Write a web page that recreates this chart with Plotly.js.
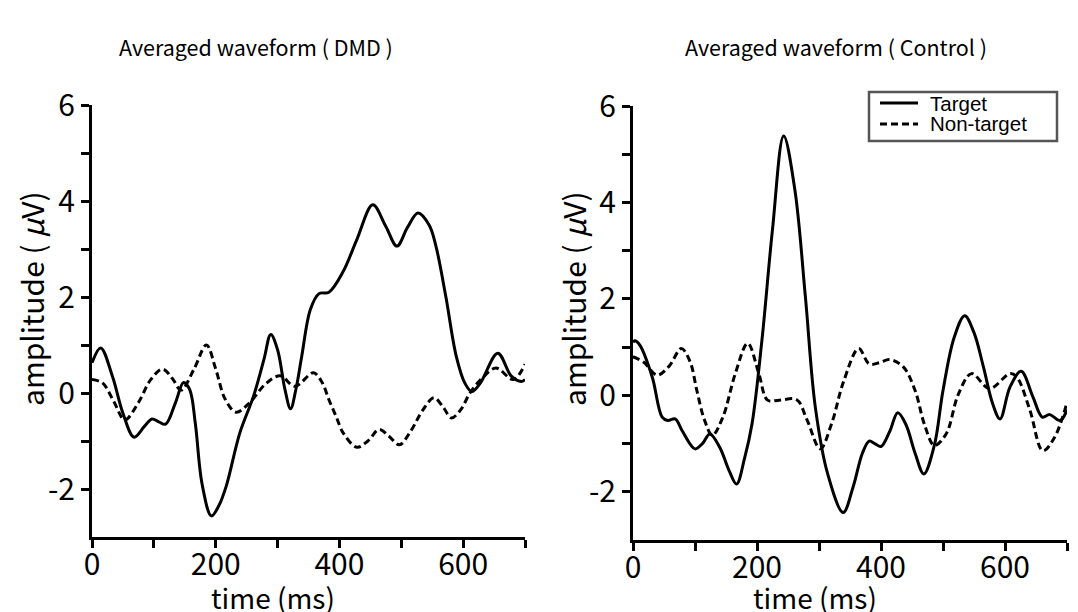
<!DOCTYPE html>
<html>
<head>
<meta charset="utf-8">
<script src="https://cdn.plot.ly/plotly-3.0.1.min.js"></script>
<style>html,body{margin:0;padding:0;background:#fff;}#chart{width:1078px;height:612px;}</style>
</head>
<body>
<div id="chart"></div>
<script>
// ---- data (time in ms, amplitude in µV) ----
var panelTitles = ["Averaged waveform ( DMD )", "Averaged waveform ( Control )"];
var seriesNames = ["Target", "Non-target"];
var xTickVals = [0, 200, 400, 600];
var xTickText = ["0", "200", "400", "600"];
var yTickVals = [-2, 0, 2, 4, 6];
var yTickText = ["-2", "0", "2", "4", "6"];
var xTitle = "time (ms)";
var yTitle = "amplitude ( <i>μ</i>V)";

var dmdTargetT = [0, 14, 33, 50, 68, 85, 97, 108, 119, 135, 148, 158, 167, 178, 193, 205, 217, 239, 261, 278, 289, 300, 312, 321, 330, 339, 353, 367, 383, 406, 428, 454, 475, 493, 510, 527, 545, 556, 572, 589, 603, 614, 628, 656, 678, 694, 700];
var dmdTargetV = [0.63, 0.94, 0.35, -0.42, -0.92, -0.69, -0.54, -0.6, -0.65, -0.2, 0.22, 0.07, -0.63, -1.9, -2.56, -2.35, -1.94, -0.83, -0.07, 0.7, 1.22, 0.9, 0.07, -0.33, 0.1, 0.76, 1.74, 2.07, 2.1, 2.53, 3.19, 3.92, 3.47, 3.06, 3.45, 3.75, 3.5, 3.06, 2.01, 0.76, 0.2, 0.03, 0.21, 0.83, 0.35, 0.24, 0.28];

var dmdNonT = [0, 17, 35, 53, 75, 95, 114, 130, 144, 165, 185, 200, 215, 233, 255, 280, 304, 328, 358, 372, 383, 395, 406, 428, 446, 464, 480, 497, 515, 535, 553, 568, 581, 596, 611, 630, 653, 681, 700];
var dmdNonV = [0.28, 0.21, -0.17, -0.56, -0.2, 0.28, 0.5, 0.3, 0.06, 0.5, 1.0, 0.5, -0.12, -0.4, -0.2, 0.18, 0.36, 0.14, 0.42, 0.22, -0.14, -0.5, -0.83, -1.13, -1.0, -0.76, -0.9, -1.08, -0.8, -0.35, -0.1, -0.3, -0.52, -0.35, 0.0, 0.3, 0.52, 0.28, 0.6];

var ctlTargetT = [0, 3, 11, 31, 47, 56, 68, 80, 100, 112, 124, 140, 155, 167, 180, 192, 208, 225, 243, 261, 278, 294, 314, 339, 355, 370, 381, 390, 400, 414, 427, 440, 455, 469, 486, 500, 518, 535, 550, 565, 580, 592, 608, 626, 645, 660, 672, 689, 700];
var ctlTargetV = [1.1, 1.13, 1.04, 0.38, -0.45, -0.52, -0.49, -0.75, -1.11, -1.0, -0.8, -1.08, -1.56, -1.84, -1.3, -0.59, 1.15, 3.44, 5.38, 4.27, 2.05, -0.24, -1.63, -2.43, -1.9, -1.2, -0.95, -1.0, -1.06, -0.75, -0.36, -0.6, -1.2, -1.63, -1.04, 0.1, 1.2, 1.65, 1.3, 0.6, -0.17, -0.49, 0.17, 0.5, -0.03, -0.45, -0.4, -0.52, -0.3];

var ctlNonT = [0, 17, 39, 58, 78, 92, 103, 115, 128, 145, 165, 185, 203, 217, 236, 264, 281, 302, 320, 340, 364, 381, 398, 414, 436, 455, 470, 486, 505, 525, 546, 575, 608, 619, 640, 661, 680, 700];
var ctlNonV = [0.8, 0.69, 0.42, 0.6, 0.97, 0.7, 0.1, -0.5, -0.83, -0.45, 0.45, 1.08, 0.45, -0.1, -0.1, -0.09, -0.52, -1.11, -0.6, 0.3, 0.97, 0.65, 0.68, 0.74, 0.59, 0.1, -0.6, -1.04, -0.8, 0.03, 0.45, 0.14, 0.45, 0.38, -0.3, -1.15, -0.87, -0.15];

// ---- styling ----
var W = 1078, H = 612;
var FONT = "Noto Sans CJK JP, Noto Sans, sans-serif";
var LFONT = "Liberation Sans, Arial, sans-serif";
var solid = {color: "#000", width: 3, shape: "spline", smoothing: 1};
var dashed = {color: "#000", width: 3, shape: "spline", smoothing: 1, dash: "7px,4px"};

var traces = [
  {x: dmdTargetT, y: dmdTargetV, xaxis: "x", yaxis: "y", mode: "lines", line: solid, name: seriesNames[0]},
  {x: dmdNonT, y: dmdNonV, xaxis: "x", yaxis: "y", mode: "lines", line: dashed, name: seriesNames[1]},
  {x: ctlTargetT, y: ctlTargetV, xaxis: "x2", yaxis: "y2", mode: "lines", line: solid, name: seriesNames[0]},
  {x: ctlNonT, y: ctlNonV, xaxis: "x2", yaxis: "y2", mode: "lines", line: dashed, name: seriesNames[1]}
];

function xAx(domain, anchor) {
  return {
    domain: domain, anchor: anchor, range: [0, 700],
    showline: true, linecolor: "#000", linewidth: 3,
    showgrid: false, zeroline: false,
    ticks: "outside", ticklen: 8, tickwidth: 3, tickcolor: "#000",
    tickvals: xTickVals, ticktext: xTickText, ticklabelstandoff: -9,
    minor: {tickvals: [100, 300, 500, 700], ticks: "outside", ticklen: 8, tickwidth: 3, tickcolor: "#000", showgrid: false},
    tickfont: {family: FONT, size: 30, color: "#000"},
    automargin: false, fixedrange: true
  };
}
function yAx(domain, anchor) {
  return {
    domain: domain, anchor: anchor, range: [-3, 6],
    showline: true, linecolor: "#000", linewidth: 3,
    showgrid: false, zeroline: false,
    ticks: "outside", ticklen: 8, tickwidth: 3, tickcolor: "#000",
    tickvals: yTickVals, ticktext: yTickText,
    minor: {tickvals: [-1, 1, 3, 5], ticks: "outside", ticklen: 8, tickwidth: 3, tickcolor: "#000", showgrid: false},
    tickfont: {family: FONT, size: 30, color: "#000"},
    automargin: false, fixedrange: true
  };
}

function px(x) { return x / W; }
function py(y) { return 1 - y / H; }

var titleFont = {family: FONT, size: 21.5, color: "#000"};
var xTitleFont = {family: FONT, size: 28, color: "#000"};
var yTitleFont = {family: FONT, size: 30, color: "#000"};
var legFont = {family: LFONT, size: 20.5, color: "#000"};

function ann(text, x, y, font, extra) {
  var a = {text: text, xref: "paper", yref: "paper", x: px(x), y: py(y), xanchor: "center", yanchor: "middle", showarrow: false, font: font};
  for (var k in extra) a[k] = extra[k];
  return a;
}

// hand-made legend box (matches the reference's compact legend)
var legBox = {x0: 869, x1: 1057, y0: 92, y1: 141};
var legRows = [103, 124];

var layout = {
  width: W, height: H,
  margin: {l: 0, r: 0, t: 0, b: 0},
  paper_bgcolor: "#fff", plot_bgcolor: "#fff",
  showlegend: false,
  xaxis: xAx([px(92), px(525)], "y"),
  yaxis: yAx([py(537), py(105)], "x"),
  xaxis2: xAx([px(633), px(1067)], "y2"),
  yaxis2: yAx([py(540), py(106)], "x2"),
  shapes: [
    {type: "rect", xref: "paper", yref: "paper", x0: px(legBox.x0), x1: px(legBox.x1), y0: py(legBox.y1), y1: py(legBox.y0), line: {color: "#555", width: 2.5}, fillcolor: "#fff", layer: "above"},
    {type: "line", xref: "paper", yref: "paper", x0: px(880), x1: px(918), y0: py(legRows[0]), y1: py(legRows[0]), line: {color: "#000", width: 3}, layer: "above"},
    {type: "line", xref: "paper", yref: "paper", x0: px(880), x1: px(918), y0: py(legRows[1]), y1: py(legRows[1]), line: {color: "#000", width: 3, dash: "7px,4px"}, layer: "above"}
  ],
  annotations: [
    ann(panelTitles[0], 256, 47, titleFont),
    ann(panelTitles[1], 836, 47, titleFont),
    ann(xTitle, 273, 597, xTitleFont),
    ann(xTitle, 815, 597, xTitleFont),
    ann(yTitle, 31, 299, yTitleFont, {textangle: -90}),
    ann(yTitle, 573, 299, yTitleFont, {textangle: -90}),
    ann(seriesNames[0], 928, legRows[0], legFont, {xanchor: "left"}),
    ann(seriesNames[1], 928, legRows[1], legFont, {xanchor: "left"})
  ]
};

Plotly.newPlot("chart", traces, layout, {displayModeBar: false, staticPlot: true});
</script>
</body>
</html>
